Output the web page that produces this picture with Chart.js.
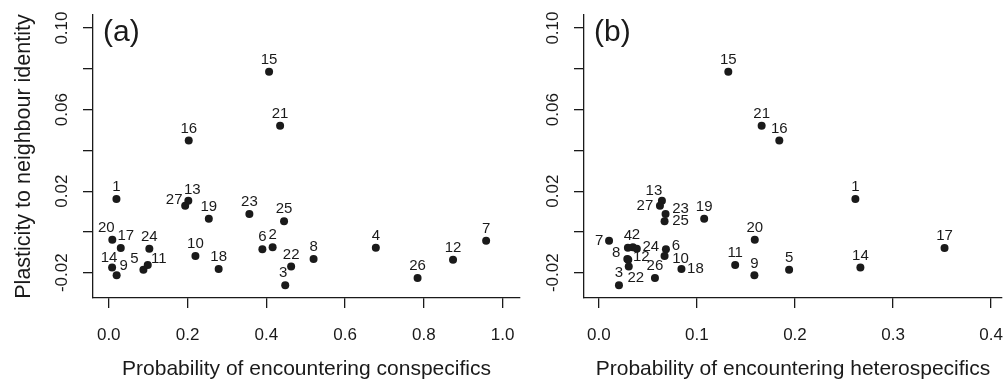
<!DOCTYPE html>
<html>
<head>
<meta charset="utf-8">
<script src="https://cdn.jsdelivr.net/npm/chart.js@4.4.1/dist/chart.umd.min.js"></script>
<style>
  body { margin: 0; background: #fff; }
  #wrap { position: relative; width: 1006px; height: 386px; overflow: hidden; }
  canvas { position: absolute; top: 0; }
  #ca { left: 0; }
  #cb { left: 500px; }
</style>
</head>
<body>
<div id="wrap">
  <canvas id="ca" width="545" height="386"></canvas>
  <canvas id="cb" width="506" height="386"></canvas>
</div>
<script>
// species numbers and their values
const species = ['1','2','3','4','5','6','7','8','9','10','11','12','13','14','15','16','17','18','19','20','21','22','23','24','25','26','27'];
const plasticity = [0.0161, -0.0075, -0.0261, -0.0077, -0.0186, -0.0085, -0.0043, -0.0133, -0.0213, -0.0118,
                    -0.0162, -0.0136, 0.0153, -0.0175, 0.0786, 0.0448, -0.0079, -0.0182, 0.0065, -0.0038,
                    0.0521, -0.0170, 0.0088, -0.0083, 0.0052, -0.0226, 0.0129];
const conspecific = [0.0195, 0.416, 0.448, 0.678, 0.088, 0.390, 0.958, 0.520, 0.020, 0.220,
                     0.099, 0.874, 0.202, 0.0085, 0.407, 0.203, 0.0305, 0.279, 0.254, 0.009,
                     0.435, 0.463, 0.357, 0.103, 0.445, 0.784, 0.194];
const heterospecific = [0.2616, 0.0347, 0.0205, 0.0296, 0.194, 0.0684, 0.0104, 0.0290, 0.1586, 0.067,
                        0.139, 0.0300, 0.0643, 0.2667, 0.132, 0.184, 0.3525, 0.0842, 0.1074, 0.159,
                        0.166, 0.0305, 0.068, 0.0387, 0.067, 0.0572, 0.0623];

const yTicks = [-0.02, 0, 0.02, 0.04, 0.06, 0.08, 0.10];
const yTickLabels = ['-0.02', '', '0.02', '', '0.06', '', '0.10'];
const xTicksA = [0, 0.2, 0.4, 0.6, 0.8, 1.0];
const xTickLabelsA = ['0.0', '0.2', '0.4', '0.6', '0.8', '1.0'];
const xTicksB = [0, 0.1, 0.2, 0.3, 0.4];
const xTickLabelsB = ['0.0', '0.1', '0.2', '0.3', '0.4'];

// label nudges in px (default: just above the point)
const nudgeA = { '13': [4, -11], '27': [-11, -6], '20': [-6, -12], '17': [5, -12], '14': [-3, -10],
                 '9': [7, -10], '5': [-9, -11], '11': [11, -6], '3': [-2, -12] };
const nudgeB = { '13': [-8, -10], '27': [-15, 0], '23': [15, -5], '25': [16, 0], '7': [-10, 0],
                 '2': [3, -12], '24': [14, -2], '6': [10, -3], '10': [16, 3], '8': [-11, -6],
                 '12': [13, -3], '22': [7, 11], '18': [14, 0] };

const FONT = "'Liberation Sans', Arial, Helvetica, sans-serif";
const INK = '#1a1a1a';

const pointNames = {
  id: 'pointNames',
  afterDatasetsDraw(chart, args, opts) {
    const ctx = chart.ctx;
    const meta = chart.getDatasetMeta(0);
    ctx.save();
    ctx.fillStyle = INK;
    ctx.font = '15px ' + FONT;
    ctx.textAlign = 'center';
    ctx.textBaseline = 'middle';
    meta.data.forEach((pt, i) => {
      const n = opts.nudges[species[i]] || [0, -12];
      ctx.fillText(species[i], pt.x + n[0], pt.y + n[1]);
    });
    // panel letter
    ctx.font = '30px ' + FONT;
    ctx.textAlign = 'left';
    ctx.fillText(opts.panel, chart.chartArea.left + 10, 33);
    ctx.restore();
  }
};

function makeChart(id, xs, xMin, xMax, xTicks, xTickLabels, xTitle, yTitle, axisWidth, padRight, panel, nudges) {
  const pts = xs.map((x, i) => ({ x: x, y: plasticity[i] }));
  return new Chart(document.getElementById(id), {
    type: 'scatter',
    data: { datasets: [{ data: pts, pointRadius: 4, pointHoverRadius: 4, backgroundColor: INK, borderWidth: 0 }] },
    options: {
      responsive: false,
      animation: false,
      events: [],
      layout: { padding: { top: 15, right: padRight, left: 0, bottom: 0 } },
      plugins: {
        legend: { display: false },
        tooltip: { enabled: false },
        pointNames: { panel: panel, nudges: nudges }
      },
      scales: {
        x: {
          type: 'linear', min: xMin, max: xMax,
          afterBuildTicks: s => { s.ticks = xTicks.map(v => ({ value: v })); },
          afterFit: s => { s.height = 88; s.paddingLeft = 0; s.paddingRight = 0; },
          ticks: { autoSkip: false, maxRotation: 0, minRotation: 0, padding: 17, color: INK,
                   font: { family: FONT, size: 17 }, callback: (v, i) => xTickLabels[i] },
          grid: { drawOnChartArea: false, tickLength: 10, color: INK, lineWidth: 1.3 },
          border: { color: INK, width: 1.3 },
          title: { display: true, text: xTitle, color: INK, font: { family: FONT, size: 21 },
                   padding: { top: 0, bottom: 4 } }
        },
        y: {
          type: 'linear', min: -0.0324, max: 0.1064,
          afterBuildTicks: s => { s.ticks = yTicks.map(v => ({ value: v })); },
          afterFit: s => { s.width = axisWidth; s.paddingTop = 0; s.paddingBottom = 0; },
          ticks: { autoSkip: false, minRotation: 90, maxRotation: 90, crossAlign: 'center', padding: 1,
                   color: INK, font: { family: FONT, size: 17 }, callback: (v, i) => yTickLabels[i] },
          grid: { drawOnChartArea: false, tickLength: 10, color: INK, lineWidth: 1.3 },
          border: { color: INK, width: 1.3 },
          title: { display: !!yTitle, text: yTitle, color: INK, font: { family: FONT, size: 21.5 },
                   padding: { top: 11, bottom: 0 } }
        }
      }
    },
    plugins: [pointNames]
  });
}

makeChart('ca', conspecific, -0.04, 1.044, xTicksA, xTickLabelsA,
          'Probability of encountering conspecifics', 'Plasticity to neighbour identity', 93, 25, '(a)', nudgeA);
makeChart('cb', heterospecific, -0.01515, 0.4111, xTicksB, xTickLabelsB,
          'Probability of encountering heterospecifics', '', 84, 0, '(b)', nudgeB);
</script>
</body>
</html>
